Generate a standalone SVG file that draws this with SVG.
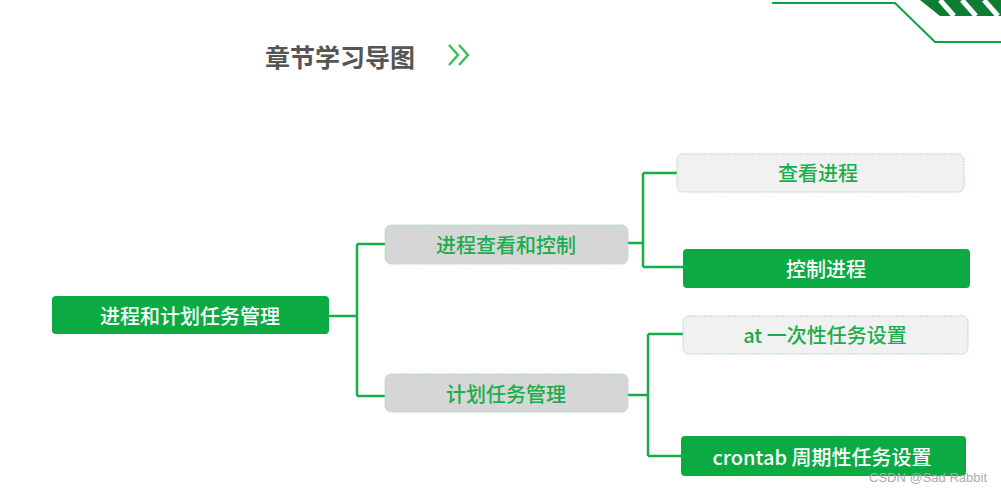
<svg xmlns="http://www.w3.org/2000/svg" width="1001" height="494" viewBox="0 0 1001 494">
<style>
.t{font-family:"Noto Sans CJK SC","Liberation Sans",sans-serif;font-size:20px;font-weight:500;text-anchor:middle;dominant-baseline:central}
.g{fill:#1aad4b}.w{fill:#fff}
.light{fill:#f1f1f1;stroke:#a8dcb5;stroke-dasharray:2 1}
.grey{fill:#d6d6d6;stroke:#a8dcb5;stroke-dasharray:2 1}
.dark{fill:#0caa43}
.c{fill:none;stroke:#14ad48;stroke-width:2.5}
</style>
<rect width="1001" height="494" fill="#fff"/>
<g id="deco">
<polyline points="772,3 895,3 935,42 1001,42" fill="none" stroke="#12a041" stroke-width="2"/>
<polygon points="920,0 1001,0 1001,16 940,16" fill="#0d7d34"/>
<g stroke="#fff" stroke-width="5"><line x1="940" y1="0" x2="954" y2="16"/><line x1="962" y1="0" x2="976" y2="16"/><line x1="984" y1="0" x2="998" y2="16"/></g>
</g>
<g id="title">
<text x="265" y="56" font-family="Noto Sans CJK SC,sans-serif" font-size="25" font-weight="bold" fill="#555" dominant-baseline="central">章节学习导图</text>
<polyline points="449,45 458,55 449,65" fill="none" stroke="#3bbf5c" stroke-width="2.5"/>
<polyline points="459,45 468,55 459,65" fill="none" stroke="#3bbf5c" stroke-width="2.5"/>
</g>
<g id="connectors">
<path class="c" d="M329,316 H356 M357,244 V396 M357,244 H385 M357,396 H385"/>
<path class="c" d="M628,243 H643 M643,173 V267 M643,173 H677 M643,267 H683"/>
<path class="c" d="M628,395 H648 M648,334 V456 M648,334 H683 M648,456 H681"/>
</g>
<g id="n0"><rect x="52" y="296" width="277" height="38" rx="4" class="dark"/><text class="t w" x="190" y="315">进程和计划任务管理</text></g>
<g id="n1"><rect x="385" y="225" width="243" height="39" rx="6" class="grey"/><text class="t g" x="506" y="244">进程查看和控制</text></g>
<g id="n2"><rect x="385" y="374" width="243" height="38" rx="6" class="grey"/><text class="t g" x="506" y="393">计划任务管理</text></g>
<g id="n3"><rect x="677" y="154" width="287" height="38" rx="6" class="light"/><text class="t g" x="818" y="172">查看进程</text></g>
<g id="n4"><rect x="683" y="249" width="287" height="39" rx="4" class="dark"/><text class="t w" x="826" y="268">控制进程</text></g>
<g id="n5"><rect x="683" y="316" width="285" height="38" rx="6" class="light"/><text class="t g" x="825" y="334">at 一次性任务设置</text></g>
<g id="n6"><rect x="681" y="436" width="285" height="40" rx="4" class="dark"/><text class="t w" x="822" y="456">crontab  周期性任务设置</text></g>
<text x="987" y="482" font-family="Liberation Sans,sans-serif" font-size="13" fill="#aaa" text-anchor="end">CSDN @Sad Rabbit</text>
</svg>
